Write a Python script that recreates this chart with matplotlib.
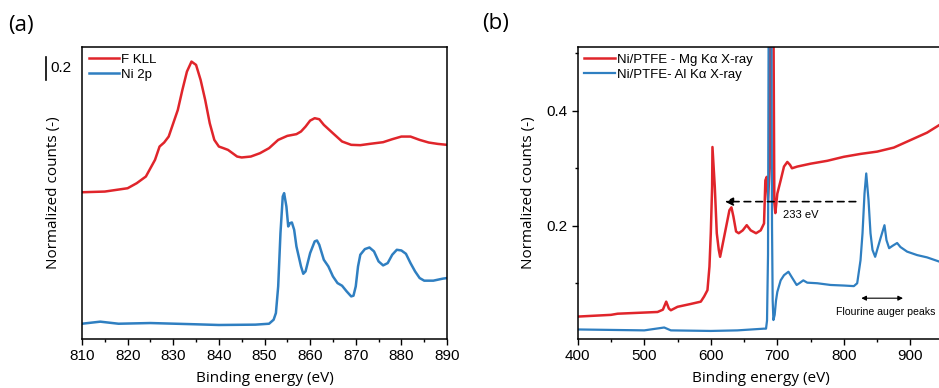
import numpy as np
import matplotlib
matplotlib.use("Agg")
import matplotlib.pyplot as plt
from matplotlib.ticker import MultipleLocator, NullLocator, FormatStrFormatter

plt.rcParams['font.family'] = ['Liberation Sans', 'DejaVu Sans']

RED = '#e0252b'
BLUE = '#2f7fc1'

# ---- panel (a): F KLL and Ni 2p regions ----
fkll_x = [810, 815, 820, 822, 824, 826, 827, 828, 829, 830, 831, 832, 833, 834, 835,
          836, 837, 838, 839, 840, 841, 842, 843, 844, 845, 847, 849, 851, 853, 855,
          857, 858, 859, 860, 861, 862, 863, 865, 867, 869, 871, 873, 876, 878, 880,
          882, 884, 886, 888, 890]
fkll_y = [1.278, 1.284, 1.313, 1.357, 1.415, 1.560, 1.676, 1.711, 1.763, 1.879, 1.995,
          2.169, 2.329, 2.416, 2.387, 2.256, 2.082, 1.879, 1.734, 1.676, 1.662, 1.647,
          1.618, 1.589, 1.581, 1.589, 1.618, 1.662, 1.734, 1.769, 1.784, 1.807, 1.850,
          1.902, 1.923, 1.914, 1.865, 1.792, 1.720, 1.691, 1.688, 1.699, 1.714, 1.740,
          1.763, 1.763, 1.734, 1.711, 1.699, 1.691]

ni2p_x = [810, 814, 818, 825, 835, 840, 848, 851, 852, 852.5, 853, 853.5, 854, 854.3,
          854.8, 855.2, 855.6, 856, 856.5, 857, 858, 858.5, 859, 860, 861, 861.5, 862,
          863, 864, 865, 866, 867, 868, 869, 869.5, 870, 870.5, 871, 872, 873, 874, 875,
          876, 877, 878, 879, 880, 881, 882, 883, 884, 885, 887, 889, 890]
ni2p_y = [0.133, 0.151, 0.133, 0.139, 0.128, 0.122, 0.125, 0.133, 0.168, 0.226, 0.458,
          0.922, 1.241, 1.270, 1.154, 0.980, 1.009, 1.015, 0.951, 0.806, 0.632, 0.568,
          0.589, 0.748, 0.850, 0.858, 0.821, 0.690, 0.632, 0.545, 0.487, 0.464, 0.415,
          0.371, 0.377, 0.458, 0.632, 0.734, 0.783, 0.797, 0.763, 0.676, 0.641, 0.661,
          0.734, 0.777, 0.771, 0.742, 0.661, 0.589, 0.531, 0.508, 0.508, 0.525, 0.531]

# ---- panel (b): survey spectra ----
mg_x = [400, 450, 460, 500, 520, 528, 533, 537, 540, 550, 570, 585, 590, 595, 598, 600,
        602, 602.5, 606, 609, 612, 614, 617, 622, 628, 631, 634, 638, 642, 648, 654, 660,
        668, 675, 680, 682, 684, 686, 688.5, 690, 692, 694, 695.5, 697, 700, 705, 710,
        715, 719, 722, 730, 750, 775, 800, 825, 850, 875, 900, 925, 950]
mg_y = [0.042, 0.045, 0.047, 0.049, 0.050, 0.054, 0.068, 0.056, 0.053, 0.059, 0.064,
        0.068, 0.077, 0.088, 0.129, 0.187, 0.268, 0.337, 0.268, 0.187, 0.158, 0.146,
        0.163, 0.192, 0.227, 0.232, 0.216, 0.190, 0.187, 0.192, 0.201, 0.192, 0.187,
        0.192, 0.204, 0.279, 0.285, 0.245, 0.30, 0.8, 1.0, 0.6, 0.24, 0.222, 0.256,
        0.279, 0.303, 0.311, 0.306, 0.300, 0.303, 0.308, 0.313, 0.320, 0.325, 0.329,
        0.336, 0.349, 0.362, 0.380]

al_x = [400, 500, 530, 540, 600, 640, 680, 683, 684.5, 686, 687.5, 689, 690.5, 692, 693,
        694.1, 696, 698, 700, 705, 710, 716.7, 722, 729, 733, 739, 745, 760, 780, 800,
        815, 820, 825, 828, 831, 833.6, 837, 840, 843, 847, 850, 855, 861, 864, 868, 873,
        880, 885, 895, 910, 925, 950]
al_y = [0.0196, 0.018, 0.023, 0.018, 0.017, 0.018, 0.021, 0.021, 0.035, 0.15, 0.8, 1.0,
        0.8, 0.2, 0.07, 0.036, 0.045, 0.07, 0.085, 0.105, 0.114, 0.120, 0.110, 0.097,
        0.100, 0.105, 0.101, 0.100, 0.097, 0.096, 0.095, 0.100, 0.140, 0.187, 0.256,
        0.291, 0.245, 0.187, 0.158, 0.146, 0.158, 0.178, 0.201, 0.175, 0.161, 0.165,
        0.170, 0.163, 0.155, 0.149, 0.145, 0.135]

fig = plt.figure(figsize=(9.39, 3.88), dpi=100)

label_font = dict(family=['Open Sans', 'DejaVu Sans'], fontsize=11)
TICK_SIZE = 11

# panel a
ax1 = fig.add_axes([82 / 939, 49 / 388, 365 / 939, 292 / 388])
ax1.plot(fkll_x, fkll_y, color=RED, lw=1.8, label='F KLL')
ax1.plot(ni2p_x, ni2p_y, color=BLUE, lw=1.8, label='Ni 2p')
ax1.set_xlim(810, 890)
ax1.set_ylim(0, 2.543)
ax1.xaxis.set_major_locator(MultipleLocator(10))
ax1.xaxis.set_minor_locator(MultipleLocator(5))
ax1.yaxis.set_major_locator(NullLocator())
ax1.tick_params(axis='x', which='major', length=4, width=1, labelsize=TICK_SIZE, pad=3)
ax1.tick_params(axis='x', which='minor', length=2.5, width=1)
ax1.set_xlabel('Binding energy (eV)', labelpad=6, **label_font)
ax1.set_ylabel('Normalized counts (-)', labelpad=15, **label_font)
ax1.legend(loc='upper left', frameon=False, fontsize=9.5, handlelength=2.3,
           handletextpad=0.15, labelspacing=0.2, borderaxespad=0.2, borderpad=0.3)

# 0.2 scale bar
tr = ax1.get_yaxis_transform()
ax1.plot([-0.1, -0.1], [2.256, 2.456], color='black', lw=1.2, transform=tr, clip_on=False)
ax1.text(-0.088, 2.356, '0.2', transform=tr, fontsize=TICK_SIZE, va='center', ha='left')

# panel b
ax2 = fig.add_axes([577.7 / 939, 49 / 388, 366 / 939, 292 / 388])
ax2.plot(mg_x, mg_y, color=RED, lw=1.8, label='Ni/PTFE - Mg K\u03b1 X-ray')
ax2.plot(al_x, al_y, color=BLUE, lw=1.6, label='Ni/PTFE- Al K\u03b1 X-ray')
ax2.set_xlim(400, 950)
ax2.set_ylim(0.003, 0.511)
ax2.xaxis.set_major_locator(MultipleLocator(100))
ax2.xaxis.set_minor_locator(MultipleLocator(50))
ax2.yaxis.set_major_locator(MultipleLocator(0.2))
ax2.yaxis.set_minor_locator(MultipleLocator(0.1))
ax2.yaxis.set_major_formatter(FormatStrFormatter('%.1f'))
ax2.tick_params(which='major', length=4, width=1, labelsize=TICK_SIZE, pad=3)
ax2.tick_params(which='minor', length=2.5, width=1)
ax2.set_xlabel('Binding energy (eV)', labelpad=6, **label_font)
ax2.set_ylabel('Normalized counts (-)', labelpad=8, **label_font)
ax2.legend(loc='upper left', frameon=False, fontsize=9.5, handlelength=2.3,
           handletextpad=0.15, labelspacing=0.2, borderaxespad=0.2, borderpad=0.3)

# annotations
ax2.annotate('', xy=(617, 0.242), xytext=(822, 0.242),
             arrowprops=dict(arrowstyle='-|>', linestyle=(0, (4, 3)), color='black',
                             lw=1.2, mutation_scale=12))
ax2.text(709, 0.219, '233 eV', fontsize=8, va='center', ha='left')
ax2.annotate('', xy=(822, 0.074), xytext=(893, 0.074),
             arrowprops=dict(arrowstyle='<|-|>', color='black', lw=0.8, mutation_scale=7))
ax2.text(788.5, 0.050, 'Flourine auger peaks', fontsize=7.6, va='center', ha='left')

for ax in (ax1, ax2):
    for s in ax.spines.values():
        s.set_linewidth(1.1)

fig.text(8 / 939, 1 - 25 / 388, '(a)', va='center', ha='left',
         family=['Open Sans', 'DejaVu Sans'], fontsize=16)
fig.text(482 / 939, 1 - 23 / 388, '(b)', va='center', ha='left',
         family=['Open Sans', 'DejaVu Sans'], fontsize=16)

fig.savefig('out.png', dpi=100)
